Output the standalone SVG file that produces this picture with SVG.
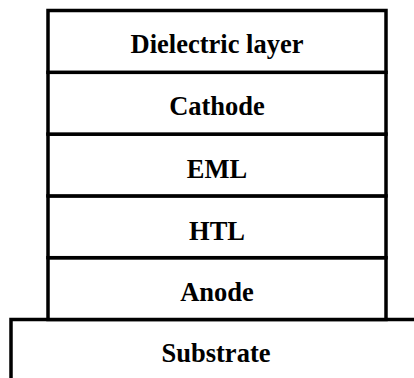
<svg xmlns="http://www.w3.org/2000/svg" width="414" height="378" viewBox="0 0 414 378">
  <style>
    .layer { fill: #ffffff; stroke: #000000; stroke-width: 3.5; }
    .edge { fill: none; stroke: #000000; stroke-width: 3.5; }
    .label { font-family: "Liberation Serif", "Times New Roman", serif; font-weight: bold; font-size: 26.5px; fill: #000000; text-anchor: middle; }
  </style>
  <rect width="414" height="378" fill="#ffffff"/>

  <!-- Substrate: open to the right and bottom edges -->
  <g id="substrate">
    <path class="edge" d="M11 382 V319.5 H418"/>
    <text class="label" x="216" y="362">Substrate</text>
  </g>

  <!-- Device stack, bottom to top -->
  <g id="anode">
    <rect class="layer" x="48" y="257.7" width="338" height="61.8"/>
    <text class="label" x="217" y="300.5">Anode</text>
  </g>
  <g id="htl">
    <rect class="layer" x="48" y="195.9" width="338" height="61.8"/>
    <text class="label" x="217" y="240">HTL</text>
  </g>
  <g id="eml">
    <rect class="layer" x="48" y="134.1" width="338" height="61.8"/>
    <text class="label" x="217" y="178">EML</text>
  </g>
  <g id="cathode">
    <rect class="layer" x="48" y="72.3" width="338" height="61.8"/>
    <text class="label" x="217" y="115">Cathode</text>
  </g>
  <g id="dielectric">
    <rect class="layer" x="48" y="10.5" width="338" height="61.8"/>
    <text class="label" x="217" y="53">Dielectric layer</text>
  </g>
</svg>
